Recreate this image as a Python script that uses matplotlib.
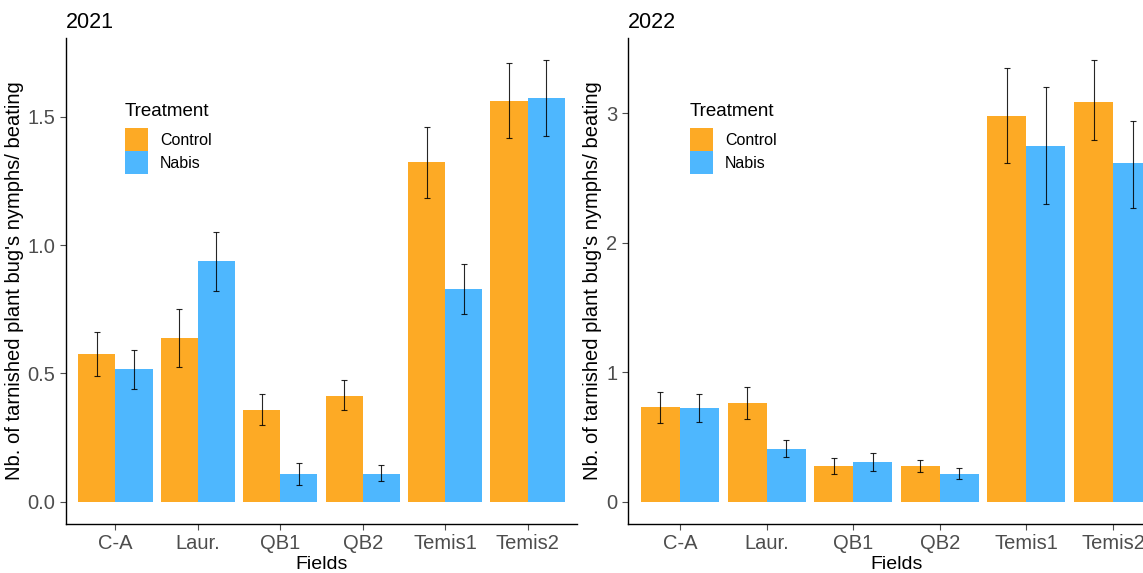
import numpy as np
import matplotlib.pyplot as plt
from matplotlib.patches import Patch

plt.rcParams['font.family'] = ['Liberation Sans', 'DejaVu Sans']

fields = ["C-A", "Laur.", "QB1", "QB2", "Temis1", "Temis2"]
treatments = ["Control", "Nabis"]

# 2021 means and error bar limits
ctrl_2021 = [0.576, 0.638, 0.358, 0.412, 1.323, 1.56]
ctrl_2021_lo = [0.49, 0.525, 0.30, 0.358, 1.183, 1.416]
ctrl_2021_hi = [0.66, 0.75, 0.42, 0.475, 1.459, 1.708]
nabis_2021 = [0.517, 0.938, 0.109, 0.109, 0.829, 1.572]
nabis_2021_lo = [0.44, 0.82, 0.066, 0.082, 0.73, 1.424]
nabis_2021_hi = [0.59, 1.05, 0.152, 0.144, 0.926, 1.72]

# 2022 means and error bar limits
ctrl_2022 = [0.73, 0.76, 0.28, 0.28, 2.976, 3.09]
ctrl_2022_lo = [0.61, 0.64, 0.215, 0.23, 2.614, 2.79]
ctrl_2022_hi = [0.85, 0.886, 0.34, 0.32, 3.346, 3.41]
nabis_2022 = [0.725, 0.41, 0.31, 0.215, 2.745, 2.614]
nabis_2022_lo = [0.62, 0.35, 0.24, 0.18, 2.30, 2.27]
nabis_2022_hi = [0.83, 0.48, 0.38, 0.26, 3.20, 2.94]

colors = ["#FDAA25", "#4EB7FE"]
W, H = 1143, 573

fig = plt.figure(figsize=(W / 100, H / 100), dpi=100)


def panel(rect, legx, title, series, yticks, yfmt):
    ax = fig.add_axes([rect[0] / W, 1 - rect[3] / H,
                       (rect[2] - rect[0]) / W, (rect[3] - rect[1]) / H])
    x = np.arange(len(fields))
    bw = 0.45
    top = 0
    for k, (mean, lo, hi) in enumerate(series):
        pos = x + (k - 0.5) * bw
        mean = np.array(mean)
        ax.bar(pos, mean, width=bw, color=colors[k], linewidth=0)
        ax.errorbar(pos, mean, yerr=[mean - np.array(lo), np.array(hi) - mean],
                    fmt='none', ecolor='black', elinewidth=0.8, capsize=2,
                    capthick=0.8, alpha=0.85)
        top = max(top, max(hi))
    ax.set_xlim(-0.6, len(fields) - 0.4)
    ax.set_ylim(-0.05 * top, 1.05 * top)
    ax.set_xticks(x)
    ax.set_xticklabels(fields)
    ax.set_yticks(yticks)
    ax.set_yticklabels([yfmt % v for v in yticks])
    for s in ["top", "right"]:
        ax.spines[s].set_visible(False)
    for s in ["left", "bottom"]:
        ax.spines[s].set_linewidth(1.0)
    ax.tick_params(axis='both', labelsize=14.5, colors='#4D4D4D',
                   length=4, width=0.8, labelcolor='#4D4D4D')
    ax.tick_params(axis='x', pad=3)
    ax.set_xlabel("Fields", fontsize=14, labelpad=2.5)
    ax.set_ylabel("Nb. of tarnished plant bug's nymphs/ beating", fontsize=14.5,
                  labelpad=3)
    ax.set_title(title, fontsize=15.5, loc='left', pad=7)

    # legend: title as plain text, keys stacked below it
    fig.text(legx / W, 1 - 112 / H, "Treatment", fontsize=13.5,
             ha='left', va='center')
    handles = [Patch(facecolor=c, edgecolor='none') for c in colors]
    fig.legend(handles, treatments, loc='upper left',
               bbox_to_anchor=(legx / W, 1 - 128 / H), frameon=False,
               fontsize=11.5, handlelength=1.45, handleheight=1.85,
               handletextpad=0.75, labelspacing=0.0, borderaxespad=0,
               borderpad=0)
    return ax


panel((66, 38, 577, 524), 125, "2021",
      [(ctrl_2021, ctrl_2021_lo, ctrl_2021_hi),
       (nabis_2021, nabis_2021_lo, nabis_2021_hi)],
      [0.0, 0.5, 1.0, 1.5], "%.1f")
panel((628, 38, 1165, 524), 690, "2022",
      [(ctrl_2022, ctrl_2022_lo, ctrl_2022_hi),
       (nabis_2022, nabis_2022_lo, nabis_2022_hi)],
      [0, 1, 2, 3], "%d")

fig.savefig("out.png", dpi=100)
